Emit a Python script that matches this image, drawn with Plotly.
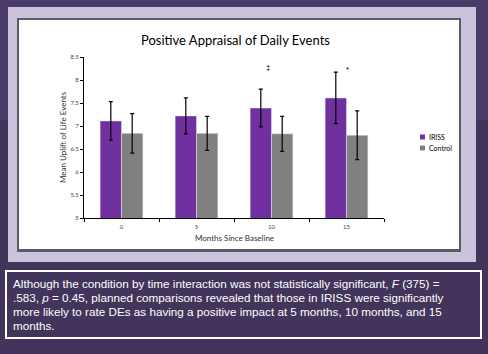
import plotly.graph_objects as go

months = ["0", "5", "10", "15"]
iriss = [7.11, 7.22, 7.39, 7.61]
iriss_err = [0.42, 0.39, 0.41, 0.56]
control = [6.84, 6.84, 6.83, 6.80]
control_err = [0.43, 0.37, 0.38, 0.53]
y_ticks = [5, 5.5, 6, 6.5, 7, 7.5, 8, 8.5]
y_ticklabels = ["5", "5.5", "6", "6.5", "7", "7.5", "8", "8.5"]
marks = [(2, "‡", 8.28, -4), (3, "*", 8.22, 1)]
caption_lines = [
    "Although the condition by time interaction was not statistically significant, <i>F</i> (375) =",
    ".583, <i>p</i> = 0.45, planned comparisons revealed that those in IRISS were significantly",
    "more likely to rate DEs as having a positive impact at 5 months, 10 months, and 15",
    "months.",
]
series_names = ["IRISS", "Control"]
colors = {"IRISS": "#7030a0", "Control": "#808080"}

W, H = 488, 354
L, R, T, B = 84, 384, 57, 218

def px(x):
    return (x - L) / (R - L)

def py(y):
    return (B - y) / (B - T)

fig = go.Figure()
fig.add_trace(go.Bar(x=months, y=iriss, name="IRISS", marker_color=colors["IRISS"],
                     error_y=dict(type="data", array=iriss_err, color="black", thickness=1.2, width=2)))
fig.add_trace(go.Bar(x=months, y=control, name="Control", marker_color=colors["Control"],
                     error_y=dict(type="data", array=control_err, color="black", thickness=1.2, width=2)))

shapes = [
    dict(type="rect", xref="paper", yref="paper", x0=px(0), x1=px(488), y0=py(0), y1=py(120),
         fillcolor="rgba(90,72,125,0.35)", line_width=0, layer="below"),
    dict(type="rect", xref="paper", yref="paper", x0=px(8), x1=px(476), y0=py(7), y1=py(262),
         fillcolor="#cbc3dc", line_width=0, layer="below"),
    dict(type="rect", xref="paper", yref="paper", x0=px(17), x1=px(461), y0=py(18), y1=py(252),
         fillcolor="#5c5a66", line_width=0, layer="below"),
    dict(type="rect", xref="paper", yref="paper", x0=px(19), x1=px(459), y0=py(20), y1=py(249),
         fillcolor="white", line_width=0, layer="below"),
    dict(type="rect", xref="paper", yref="paper", x0=px(6), x1=px(481), y0=py(271), y1=py(338),
         fillcolor="rgba(0,0,0,0)", line=dict(color="white", width=2), layer="below"),
]

annotations = [
    dict(text="Positive Appraisal of Daily Events", xref="paper", yref="paper",
         x=px(235), y=py(40), xanchor="center", yanchor="middle", showarrow=False,
         font=dict(family="Lato", size=13, color="black")),
    dict(text="Mean Uplift of Life Events", xref="paper", yref="paper", x=px(63), y=py(137),
         xanchor="center", yanchor="middle", textangle=-90, showarrow=False,
         font=dict(family="Lato", size=8, color="#333")),
    dict(text="Months Since Baseline", xref="paper", yref="paper", x=px(234), y=py(238),
         xanchor="center", yanchor="middle", showarrow=False,
         font=dict(family="Lato", size=8, color="#333")),
]
# legend (manual, compact like the original)
for i, nm in enumerate(series_names):
    cy = 137 + 11 * i
    shapes.append(dict(type="rect", xref="paper", yref="paper", x0=px(420), x1=px(425),
                       y0=py(cy + 2.5), y1=py(cy - 2.5), fillcolor=colors[nm], line_width=0))
    annotations.append(dict(text=nm, xref="paper", yref="paper", x=px(426.5), y=py(cy),
                            xanchor="left", yanchor="middle", showarrow=False,
                            font=dict(family="Lato", size=7, color="black")))
for i, line in enumerate(caption_lines):
    annotations.append(dict(text=line, xref="paper", yref="paper", x=px(11), y=py(283 + 14 * i),
                            xanchor="left", yanchor="middle", align="left", showarrow=False,
                            font=dict(family="Liberation Sans", size=11.7, color="white")))
for idx, sym, yv, xs in marks:
    annotations.append(dict(text=sym, x=idx, y=yv, xref="x", yref="y", showarrow=False, xshift=xs,
                            font=dict(family="Liberation Sans", size=8, color="black")))

fig.update_layout(
    width=W, height=H,
    margin=dict(l=L, r=W - R, t=T, b=H - B),
    paper_bgcolor="#42345b",
    plot_bgcolor="rgba(0,0,0,0)",
    barmode="group", bargap=0.43, bargroupgap=0,
    showlegend=False,
    shapes=shapes, annotations=annotations,
)
fig.update_xaxes(type="category", range=[-0.5, 3.5], showline=True, linecolor="black", linewidth=1,
                 ticks="outside", tickson="boundaries", ticklen=3, tickcolor="black",
                 ticklabelstandoff=3,
                 tickfont=dict(family="Lato", size=6, color="#444"), showgrid=False)
fig.update_yaxes(range=[5, 8.5], tickvals=y_ticks, ticktext=y_ticklabels, showline=True,
                 linecolor="black", linewidth=1, ticks="outside", ticklen=3, tickcolor="black",
                 tickfont=dict(family="Lato", size=6, color="#444"), showgrid=False, zeroline=False)

fig.write_html("out.html")
